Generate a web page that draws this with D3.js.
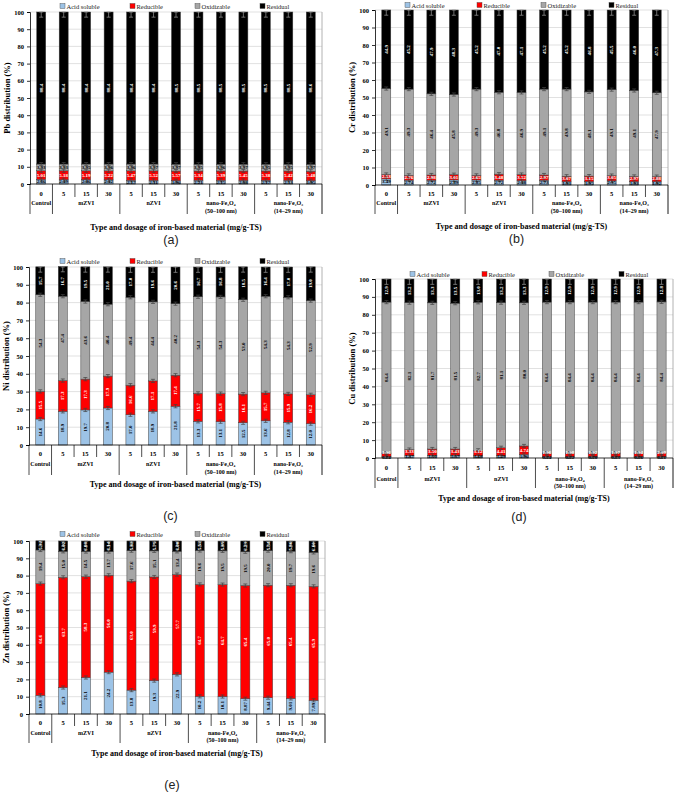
<!DOCTYPE html>
<html><head><meta charset="utf-8">
<script src="https://cdn.jsdelivr.net/npm/d3@7"></script>
<style>body{margin:0;background:#fff}svg{display:block}</style>
</head><body>
<script>
// ---------- DATA ----------
const dosages = ["0","5","15","30","5","15","30","5","15","30","5","15","30"];
const groupNames = [["Control"],["mZVI"],["nZVI"],["nano-Fe₃O₄","(50–100 nm)"],["nano-Fe₂O₃","(14–29 nm)"]];
const groupSizes = [1,3,3,3,3];
const seriesNames = ["Acid soluble","Reducible","Oxidizable","Residual"];
const yTicks = [0,10,20,30,40,50,60,70,80,90,100];

const pbAcid = [2.66,2.49,2.46,2.42,2.17,2.11,1.96,2.21,2.15,2.08,2.17,2.13,1.95];
const pbReducible = [5.01,5.18,5.19,5.22,5.47,5.52,5.57,5.34,5.39,5.45,5.38,5.42,5.48];
const pbOxidizable = [3.93,3.93,3.95,3.96,3.96,3.97,3.97,3.95,3.96,3.97,3.95,3.95,3.97];
const pbResidual = [88.4,88.4,88.4,88.4,88.4,88.4,88.5,88.5,88.5,88.5,88.5,88.5,88.6];

const crAcid = [3.49,2.74,2.72,2.89,2.85,2.72,2.48,2.73,1.93,1.95,2.35,1.93,1.92];
const crReducible = [2.53,2.76,2.98,3.01,2.65,3.48,3.52,2.97,3.07,3.15,3.05,2.97,2.88];
const crOxidizable = [49.1,49.3,46.4,45.8,49.3,46.8,46.9,49.1,49.8,48.1,49.1,49.1,47.9];
const crResidual = [44.9,45.2,47.9,48.3,45.2,47.0,47.1,45.2,45.2,46.8,45.5,46.0,47.3];

const niAcid = [14.6,18.9,19.7,20.8,17.0,18.9,21.8,13.3,13.1,12.5,13.6,12.8,12.0];
const niReducible = [15.5,17.3,17.3,17.9,16.6,17.1,17.4,15.7,15.8,16.1,15.7,15.9,16.2];
const niOxidizable = [54.3,47.4,43.6,40.4,49.4,44.4,40.2,54.3,54.3,53.0,54.3,54.3,52.9];
const niResidual = [15.7,16.7,19.5,21.0,17.0,19.6,20.6,16.7,16.8,18.5,16.4,17.0,19.0];

const cuAcid = [0.74,1.37,1.50,1.57,1.18,1.29,1.96,0.74,0.72,0.78,0.73,0.76,0.71];
const cuReducible = [1.96,3.33,3.50,3.43,3.12,4.41,4.74,1.96,1.98,1.92,1.97,1.94,2.09];
const cuOxidizable = [84.4,82.1,81.7,81.5,82.7,81.1,80.0,84.4,84.4,84.4,84.4,84.4,84.4];
const cuResidual = [12.9,13.2,13.3,13.5,13.0,13.2,13.3,12.9,12.9,12.9,12.9,12.9,12.8];

const znAcid = [10.8,15.3,21.1,24.2,13.8,19.3,22.9,10.2,10.1,8.87,9.44,9.01,7.89];
const znReducible = [64.6,63.7,58.3,56.0,63.0,59.9,57.7,64.7,64.7,65.4,65.0,65.4,65.9];
const znOxidizable = [19.4,15.0,14.5,13.7,17.6,15.1,13.4,19.6,19.5,19.5,20.0,19.7,19.6];
const znResidual = [5.32,6.02,6.08,6.14,5.62,5.75,6.00,5.52,5.65,6.23,5.54,5.86,6.60];

// ---------- STYLE / LAYOUT ----------
const colors = ["#9DC3E6","#FF0000","#A6A6A6","#000000"];
const labelColors = ["#000","#fff","#000","#fff"];
const serif = "'Liberation Serif','Times New Roman',serif";

const panels = [
  {metal:"Pb", data:[pbAcid,pbReducible,pbOxidizable,pbResidual], caption:"(a)",
   x0:30, x1:322, yTop:12, yBot:184, legY:6, legX:[60,130,195,260], dosY:193, grpY:203, grp2Y:211, sepB:214, titleY:227, capY:244, rotMin:8},
  {metal:"Cr", data:[crAcid,crReducible,crOxidizable,crResidual], caption:"(b)",
   x0:375, x1:668, yTop:10, yBot:185, legY:5, legX:[405,477,541,609], dosY:193, grpY:203, grp2Y:211, sepB:214, titleY:226, capY:243, rotMin:8},
  {metal:"Ni", data:[niAcid,niReducible,niOxidizable,niResidual], caption:"(c)",
   x0:29, x1:322, yTop:267, yBot:445, legY:261, legX:[60,130,195,260], dosY:453, grpY:464, grp2Y:472, sepB:475, titleY:484, capY:520, rotMin:0},
  {metal:"Cu", data:[cuAcid,cuReducible,cuOxidizable,cuResidual], caption:"(d)",
   x0:375, x1:673, yTop:279, yBot:458, legY:274, legX:[410,482,549,619], dosY:467, grpY:479, grp2Y:486, sepB:488, titleY:498, capY:521, rotMin:8},
  {metal:"Zn", data:[znAcid,znReducible,znOxidizable,znResidual], caption:"(e)",
   x0:29, x1:325, yTop:541, yBot:714, legY:534, legX:[60,130,195,260], dosY:722, grpY:733, grp2Y:740, sepB:743, titleY:753, capY:789, rotMin:0}
];

const svg = d3.select("body").append("svg").attr("width",685).attr("height",793)
  .style("background","#fff");

panels.forEach(p => {
  const g = svg.append("g");
  const n = dosages.length;
  const x = d3.scaleBand().domain(d3.range(n)).range([p.x0,p.x1]).paddingInner(0.6).paddingOuter(0.3);
  const y = d3.scaleLinear().domain([0,100]).range([p.yBot,p.yTop]);
  const step = x.step();

  // gridlines
  g.append("g").selectAll("line").data(yTicks.filter(t=>t>0)).join("line")
    .attr("x1",p.x0).attr("x2",p.x1).attr("y1",d=>y(d)).attr("y2",d=>y(d))
    .attr("stroke","#d9d9d9").attr("stroke-width",0.8);
  // plot border right
  g.append("line").attr("x1",p.x1).attr("x2",p.x1).attr("y1",y(100)).attr("y2",p.sepB)
    .attr("stroke","#a0a0a0").attr("stroke-width",0.8);

  // stacked bars
  const rows = d3.range(n).map(i => {
    const o = {i};
    seriesNames.forEach((s,k)=>o[s]=p.data[k][i]);
    return o;
  });
  const stack = d3.stack().keys(seriesNames)(rows);
  stack.forEach((layer,k) => {
    const lg = g.append("g");
    lg.selectAll("rect").data(layer).join("rect")
      .attr("x",(d,i)=>x(i)).attr("width",x.bandwidth())
      .attr("y",d=>y(d[1])).attr("height",d=>y(d[0])-y(d[1]))
      .attr("fill",colors[k]).attr("stroke","#404040").attr("stroke-width",0.5);
  });
  // error bars at segment tops
  stack.forEach((layer,k) => {
    const eg = g.append("g").attr("stroke", k===3 ? "#9a9a9a" : "#404040").attr("stroke-width",0.7);
    layer.forEach((d,i) => {
      const cx = x(i)+x.bandwidth()/2;
      const e = k===3 ? 3 : 0.9;
      const ya = y(Math.min(100,d[1]+ (k===3?0:e))), yb = y(d[1]-e);
      eg.append("line").attr("x1",cx).attr("x2",cx).attr("y1",ya).attr("y2",yb);
      eg.append("line").attr("x1",cx-2).attr("x2",cx+2).attr("y1",ya).attr("y2",ya);
      eg.append("line").attr("x1",cx-2).attr("x2",cx+2).attr("y1",yb).attr("y2",yb);
    });
  });
  // value labels (small horizontal labels are nudged so they do not collide)
  d3.range(n).forEach(i => {
    let lastY = Infinity;
    stack.forEach((layer,k) => {
      const d = layer[i];
      const v = p.data[k][i];
      const cx = x(i)+x.bandwidth()/2;
      let cy = (y(d[0])+y(d[1]))/2;
      const txt = v>=10 ? v.toFixed(1) : v.toFixed(2);
      const t = g.append("text").text(txt)
        .attr("font-family",serif).attr("font-weight","bold").attr("font-size",5)
        .attr("fill",labelColors[k]).attr("text-anchor","middle").attr("dominant-baseline","central");
      if (v >= p.rotMin) {
        t.attr("transform",`translate(${cx},${cy}) rotate(-90)`);
        lastY = Infinity;
      } else {
        if (cy > lastY - 5) cy = lastY - 5;
        t.attr("x",cx).attr("y",cy);
        lastY = cy;
      }
    });
  });

  // y axis
  const ya = g.append("g").attr("transform",`translate(${p.x0},0)`)
    .call(d3.axisLeft(y).tickValues(yTicks).tickSize(3).tickPadding(3));
  ya.select(".domain").attr("stroke","#000").attr("stroke-width",0.8);
  ya.selectAll(".tick line").attr("stroke","#000").attr("stroke-width",0.8);
  ya.selectAll("text").attr("font-family",serif).attr("font-weight","bold").attr("font-size",6.5).attr("fill","#000");

  // y title
  g.append("text").text(p.metal+" distribution (%)")
    .attr("transform",`translate(${p.x0-20},${(p.yTop+p.yBot)/2}) rotate(-90)`)
    .attr("text-anchor","middle").attr("font-family",serif).attr("font-weight","bold").attr("font-size",8.5);

  // x axis line
  g.append("line").attr("x1",p.x0).attr("x2",p.x1).attr("y1",p.yBot).attr("y2",p.yBot)
    .attr("stroke","#000").attr("stroke-width",0.8);
  // separators
  const groupBounds = [0];
  groupSizes.forEach(s=>groupBounds.push(groupBounds[groupBounds.length-1]+s));
  d3.range(n+1).forEach(b => {
    const xb = p.x0 + b*step;
    const isGroup = groupBounds.includes(b);
    g.append("line").attr("x1",xb).attr("x2",xb).attr("y1",p.yBot)
      .attr("y2", isGroup ? p.sepB : p.dosY+4)
      .attr("stroke","#000").attr("stroke-width",0.7);
  });
  // dosage labels
  g.append("g").selectAll("text").data(dosages).join("text")
    .attr("x",(d,i)=>x(i)+x.bandwidth()/2).attr("y",p.dosY).text(d=>d)
    .attr("text-anchor","middle").attr("dominant-baseline","central")
    .attr("font-family",serif).attr("font-weight","bold").attr("font-size",6.5);
  // group labels
  groupNames.forEach((lines,gi) => {
    const cx = p.x0 + (groupBounds[gi]+groupBounds[gi+1])/2*step;
    lines.forEach((ln,li) => {
      g.append("text").text(ln).attr("x",cx).attr("y", li===0 ? p.grpY : p.grp2Y)
        .attr("text-anchor","middle").attr("dominant-baseline","central")
        .attr("font-family",serif).attr("font-weight","bold").attr("font-size",6);
    });
  });
  // x title
  g.append("text").text("Type and dosage of iron-based material (mg/g-TS)")
    .attr("x",(p.x0+p.x1)/2).attr("y",p.titleY).attr("text-anchor","middle").attr("dominant-baseline","central")
    .attr("font-family",serif).attr("font-weight","bold").attr("font-size",8);
  // caption
  g.append("text").text(p.caption).attr("x",(p.x0+p.x1)/2-5).attr("y",p.capY)
    .attr("text-anchor","middle").attr("font-family","'Liberation Sans',Arial,sans-serif").attr("font-size",12.5).attr("fill","#222");

  // legend
  seriesNames.forEach((s,k) => {
    const lx = p.legX[k];
    g.append("rect").attr("x",lx).attr("y",p.legY-2.5).attr("width",5).attr("height",5)
      .attr("fill",colors[k]).attr("stroke","#404040").attr("stroke-width",0.4);
    g.append("text").text(s).attr("x",lx+6.5).attr("y",p.legY).attr("dominant-baseline","central")
      .attr("font-family",serif).attr("font-size",6.5).attr("fill","#222");
  });
});
</script>
</body></html>
